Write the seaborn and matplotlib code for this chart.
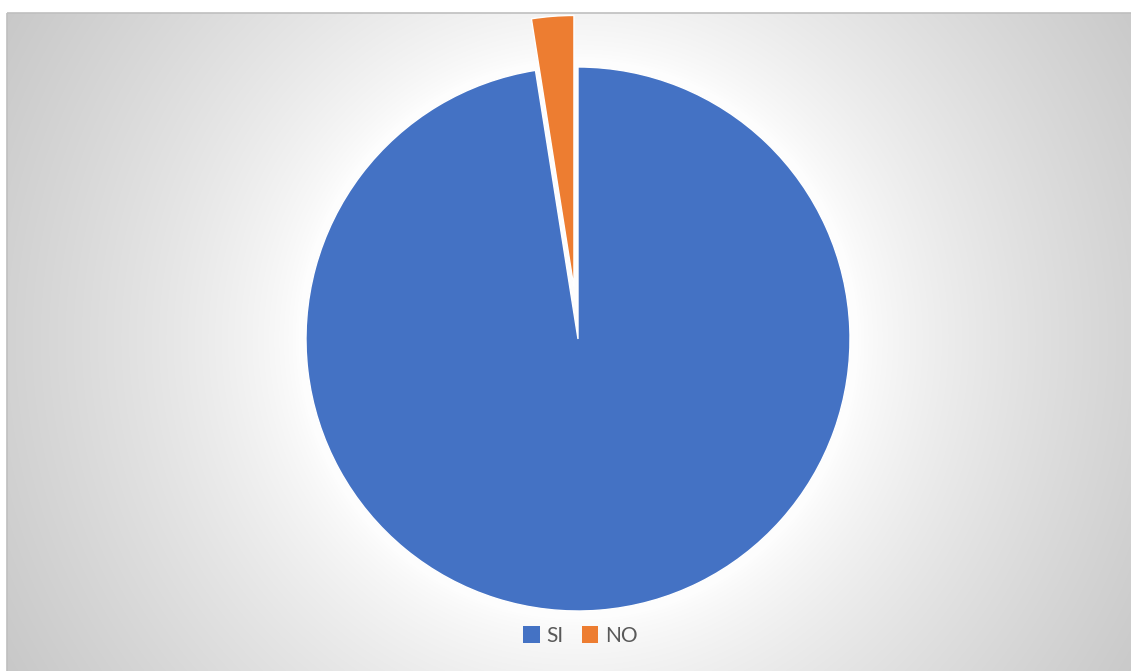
import numpy as np
import matplotlib
matplotlib.use("Agg")
import matplotlib.pyplot as plt
from matplotlib.patches import Patch, Rectangle
import seaborn as sns

# Survey answers (share of responses, %)
labels = ["SI", "NO"]
shares = [97.5, 2.5]
colors = sns.color_palette(["#4472C4", "#ED7D31"])
explode = [0.0, 0.19]

W, H = 1131, 671
fig = plt.figure(figsize=(W / 100, H / 100), dpi=100)
fig.patch.set_facecolor("white")

# Chart area with a soft radial gradient (white centre, grey edges)
x0, y0 = 7, 13
cx, cy = 578, 339
yy, xx = np.mgrid[0:H, 0:W]
d = np.hypot(xx - cx, yy - cy)
shade = 10.0 * np.clip((d - 280.0) / 46.0, 0, None) ** 0.79
val = np.clip(253.0 - shade, 190, 255) / 255.0
img = np.dstack([val, val, val])
outside = (xx < x0) | (yy < y0)
img[outside] = 1.0

bg = fig.add_axes([0, 0, 1, 1])
bg.imshow(img, extent=(0, W, H, 0), interpolation="bilinear", aspect="auto")
bg.add_patch(Rectangle((x0, y0), W, H, fill=False, edgecolor="#bfbfbf", lw=1.2))
bg.set_xlim(0, W)
bg.set_ylim(H, 0)
bg.axis("off")

# Pie
r = 272
ax = fig.add_axes([(cx - r) / W, (H - cy - r) / H, 2 * r / W, 2 * r / H])
wedges, _ = ax.pie(
    shares,
    colors=colors,
    startangle=90,
    counterclock=False,
    explode=explode,
    radius=1.0,
    wedgeprops=dict(edgecolor="white", linewidth=1.0),
)
for w in wedges:
    w.set_clip_on(False)
ax.set_xlim(-1, 1)
ax.set_ylim(-1, 1)
ax.set_aspect("auto")
ax.axis("off")

handles = [Patch(facecolor=c, edgecolor="none") for c in colors]
leg = fig.legend(
    handles, labels,
    loc="center", bbox_to_anchor=(0.513, 1 - 636 / H),
    ncol=2, frameon=False,
    handlelength=0.8, handleheight=0.9, handletextpad=0.3,
    columnspacing=0.9,
    prop=dict(family="Lato", size=15),
)
for t in leg.get_texts():
    t.set_color("#595959")

fig.savefig("out.png", dpi=100)
